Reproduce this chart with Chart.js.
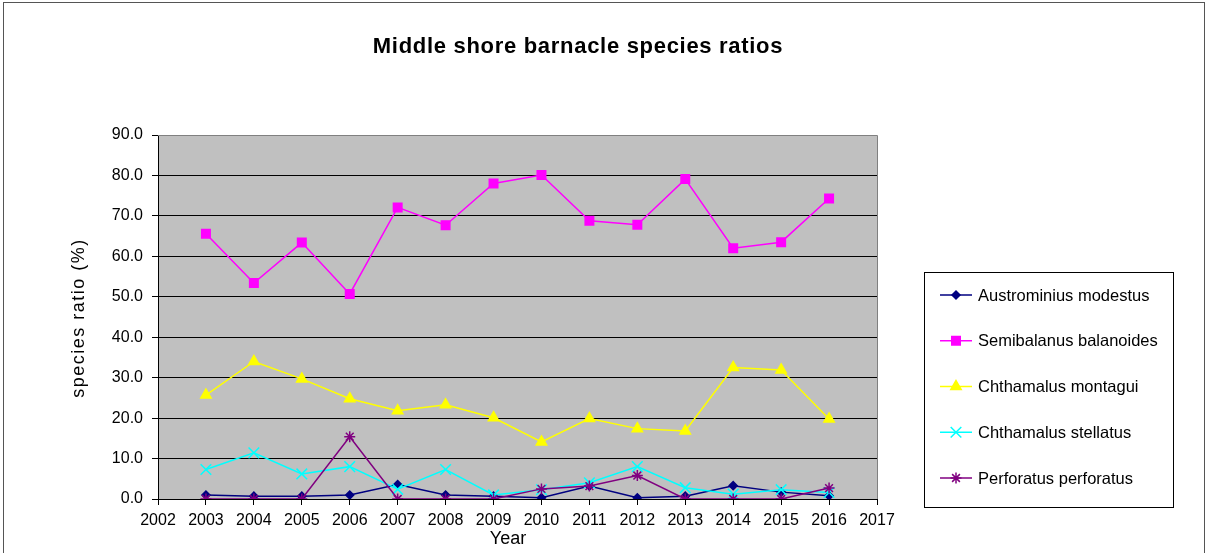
<!DOCTYPE html>
<html>
<head>
<meta charset="utf-8">
<title>Middle shore barnacle species ratios</title>
<script src="https://cdn.jsdelivr.net/npm/chart.js@4.4.0/dist/chart.umd.min.js"></script>
<style>
  html, body { margin: 0; padding: 0; background: #ffffff; }
  #wrap { width: 1208px; height: 553px; position: relative; }
</style>
</head>
<body>
<div id="wrap"><canvas id="ratio-chart" width="1208" height="553"></canvas></div>
<script>
/* ===============================
   DATA
================================= */
const years = [2003, 2004, 2005, 2006, 2007, 2008, 2009, 2010, 2011, 2012, 2013, 2014, 2015, 2016];

const austrominius = [1.0, 0.7, 0.7, 1.0, 3.6, 1.0, 0.7, 0.3, 3.2, 0.3, 0.7, 3.3, 1.7, 0.8];
const semibalanus  = [65.6, 53.4, 63.4, 50.7, 72.1, 67.7, 78.0, 80.1, 68.8, 67.8, 79.1, 62.0, 63.5, 74.3];
const montagui     = [25.7, 34.0, 29.7, 24.8, 21.8, 23.3, 20.1, 14.1, 19.9, 17.4, 16.8, 32.5, 31.9, 19.8];
const stellatus    = [7.3, 11.4, 6.2, 8.0, 2.4, 7.3, 1.0, 2.3, 4.0, 8.0, 2.8, 1.2, 2.3, 1.6];
const perforatus   = [0.0, 0.0, 0.0, 15.4, 0.0, 0.0, 0.0, 2.5, 3.2, 5.8, 0.0, 0.0, 0.0, 2.7];

const seriesNames  = ["Austrominius modestus", "Semibalanus balanoides", "Chthamalus montagui", "Chthamalus stellatus", "Perforatus perforatus"];
const yTickValues  = [0, 10, 20, 30, 40, 50, 60, 70, 80, 90];

const TITLE = "Middle shore barnacle species ratios";
const X_TITLE = "Year";
const Y_TITLE = "species ratio (%)";
const FONT = "'Liberation Sans', Arial, sans-serif";

/* ===============================
   HELPERS
================================= */
function toPoints(values) {
  return years.map((yr, i) => ({ x: yr, y: values[i] }));
}

function makeSet(idx, values, color, style, radius) {
  return {
    label: seriesNames[idx],
    data: toPoints(values),
    borderColor: color,
    backgroundColor: color,
    borderWidth: 1.5,
    pointStyle: style,
    pointRadius: radius,
    pointBorderWidth: 1.5,
    pointBackgroundColor: color,
    pointBorderColor: color,
    tension: 0,
    order: 5 - idx,
  };
}

/* ===============================
   PLUGINS
================================= */
const decorPlugin = {
  id: "decor",
  beforeDraw(chart) {
    const { ctx, chartArea: a } = chart;
    ctx.save();
    ctx.fillStyle = "#c0c0c0";
    ctx.fillRect(a.left, a.top, a.right - a.left, a.bottom - a.top);
    ctx.restore();
  },
  afterDraw(chart) {
    const { ctx, chartArea: a } = chart;
    ctx.save();

    // plot frame (top / right)
    ctx.strokeStyle = "#808080";
    ctx.lineWidth = 1;
    ctx.beginPath();
    ctx.moveTo(a.left, a.top + 0.5);
    ctx.lineTo(a.right + 0.5, a.top + 0.5);
    ctx.lineTo(a.right + 0.5, a.bottom);
    ctx.stroke();

    // outer chart border
    ctx.strokeStyle = "#555555";
    ctx.strokeRect(3.5, 2.5, 1201, 600);

    // title
    ctx.fillStyle = "#000";
    ctx.textAlign = "center";
    ctx.textBaseline = "middle";
    ctx.font = "bold 22px " + FONT;
    ctx.letterSpacing = "0.7px";
    ctx.fillText(TITLE, 578, 47);

    // axis titles
    ctx.letterSpacing = "0px";
    ctx.font = "18px " + FONT;
    ctx.fillText(X_TITLE, 508, 539);
    ctx.translate(79, 318);
    ctx.rotate(-Math.PI / 2);
    ctx.letterSpacing = "1.5px";
    ctx.fillText(Y_TITLE, 0, 0);
    ctx.restore();

    // legend
    ctx.save();
    ctx.strokeStyle = "#000";
    ctx.lineWidth = 1;
    ctx.strokeRect(924.5, 272.5, 249, 235);
    ctx.font = "16.5px " + FONT;
    ctx.textAlign = "left";
    ctx.textBaseline = "middle";
    chart.data.datasets.forEach((ds, i) => {
      const y = 295 + i * 45.75;
      ctx.strokeStyle = ds.borderColor;
      ctx.fillStyle = ds.borderColor;
      ctx.lineWidth = 1.5;
      ctx.beginPath();
      ctx.moveTo(940, y);
      ctx.lineTo(972, y);
      ctx.stroke();
      Chart.helpers.drawPoint(ctx, {
        pointStyle: ds.pointStyle,
        radius: ds.pointRadius,
        rotation: 0,
        borderWidth: 1.5,
      }, 956, y);
      ctx.fillStyle = "#000";
      ctx.fillText(ds.label, 978, y + 1);
    });
    ctx.restore();
  },
};

/* ===============================
   CHART
================================= */
const canvas = document.getElementById("ratio-chart");

new Chart(canvas, {
  type: "line",
  data: {
    datasets: [
      makeSet(0, austrominius, "#000080", "rectRot", 4),
      makeSet(1, semibalanus, "#ff00ff", "rect", 6),
      makeSet(2, montagui, "#ffff00", "triangle", 6),
      makeSet(3, stellatus, "#00ffff", "crossRot", 7.5),
      makeSet(4, perforatus, "#800080", "star", 5.5),
    ],
  },
  options: {
    responsive: false,
    animation: false,
    devicePixelRatio: 1,
    layout: { padding: { top: 135, right: 331, left: 0, bottom: 0 } },
    plugins: {
      legend: { display: false },
      title: { display: false },
      tooltip: { enabled: false },
    },
    scales: {
      x: {
        type: "linear",
        min: 2002,
        max: 2017,
        afterFit(scale) { scale.height = 54; },
        afterBuildTicks(scale) {
          const t = [];
          for (let v = 2002; v <= 2017; v++) t.push({ value: v });
          scale.ticks = t;
        },
        ticks: {
          color: "#000",
          font: { family: FONT, size: 16 },
          padding: 6,
          maxRotation: 0,
          autoSkip: false,
          callback: v => String(v),
        },
        grid: {
          drawOnChartArea: false,
          drawTicks: true,
          tickLength: 6,
          color: "#000",
        },
        border: { color: "#000", width: 1 },
      },
      y: {
        min: 0,
        max: 90,
        afterFit(scale) { scale.width = 158; },
        afterBuildTicks(scale) {
          scale.ticks = yTickValues.map(v => ({ value: v }));
        },
        ticks: {
          color: "#000",
          font: { family: FONT, size: 16 },
          padding: 9,
          callback: v => Number(v).toFixed(1),
        },
        grid: {
          color: ctx => (ctx.tick && ctx.tick.value === 90 ? "#808080" : "#000"),
          lineWidth: 1,
          tickLength: 6,
          tickColor: "#000",
        },
        border: { color: "#000", width: 1 },
      },
    },
  },
  plugins: [decorPlugin],
});
</script>
</body>
</html>
